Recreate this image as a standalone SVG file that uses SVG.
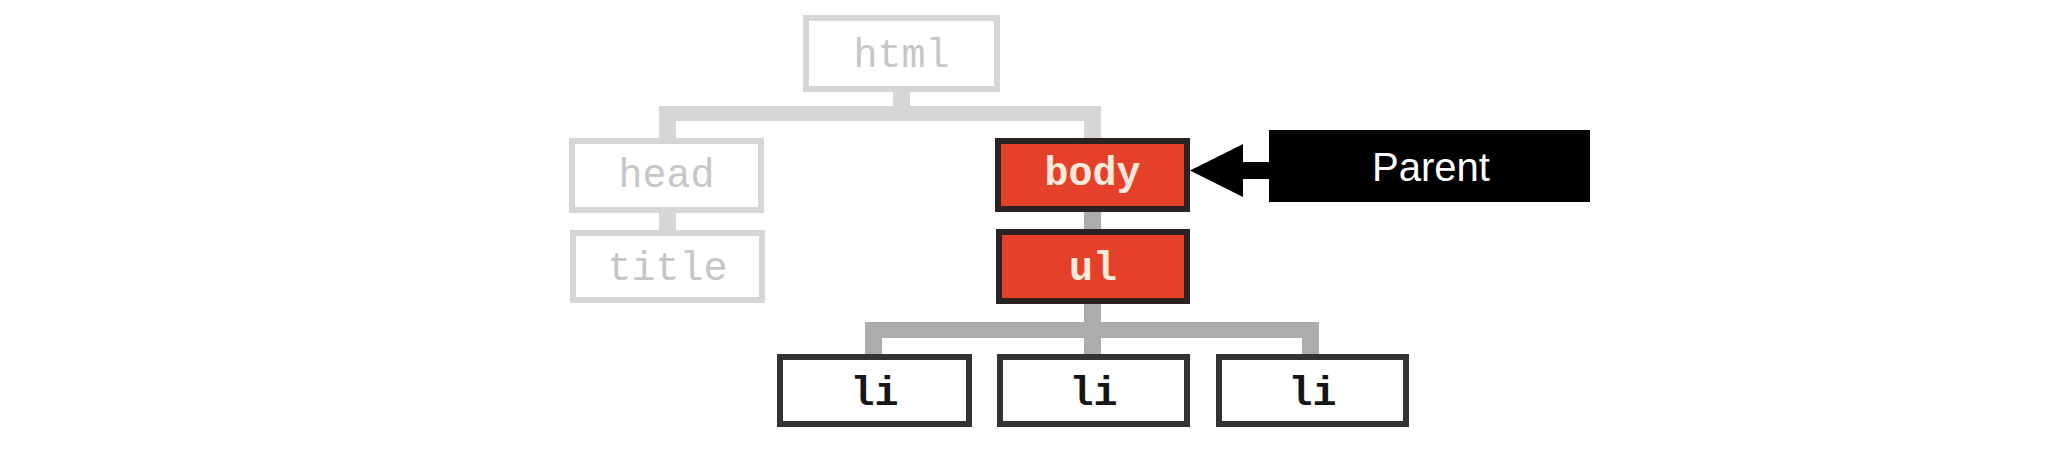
<svg xmlns="http://www.w3.org/2000/svg" width="2068" height="462" viewBox="0 0 2068 462">
<style>
.faded rect{fill:#fff;stroke:#d6d6d6;stroke-width:6}
.faded text{fill:#c6c6c6}
.hl rect{fill:#e5412a;stroke:#2b2222;stroke-width:6}
.hl text{fill:#fbeadb;font-weight:bold}
.leaf rect{fill:#fff;stroke:#333;stroke-width:6}
.leaf text{fill:#161616;font-weight:bold}
.code{font-family:"Liberation Mono","Courier New",monospace;font-size:40px;text-anchor:middle}
.lineA{fill:#d6d6d6}
.lineB{fill:#acacac}
</style>
<rect width="2068" height="462" fill="#fff"/>
<g id="connectors">
  <rect class="lineA" x="893" y="89" width="17" height="20"/>
  <rect class="lineA" x="659" y="106" width="442" height="15"/>
  <rect class="lineA" x="659" y="121" width="17" height="20"/>
  <rect class="lineA" x="1084" y="121" width="17" height="20"/>
  <rect class="lineA" x="659" y="210" width="17" height="23"/>
  <rect class="lineB" x="1084" y="209" width="17" height="23"/>
  <rect class="lineB" x="1084" y="301" width="17" height="22"/>
  <rect class="lineB" x="865" y="322" width="454" height="16"/>
  <rect class="lineB" x="865" y="338" width="17" height="19"/>
  <rect class="lineB" x="1084" y="338" width="17" height="19"/>
  <rect class="lineB" x="1302" y="338" width="17" height="19"/>
  <g id="arrow">
    <rect x="1240" y="162" width="31" height="17" fill="#000"/>
    <polygon points="1190,170.5 1243,144 1243,197" fill="#000"/>
  </g>
</g>
<g id="node-html" class="faded"><rect x="806" y="18" width="191" height="71"/><text class="code" x="901.5" y="67">html</text></g>
<g id="node-head" class="faded"><rect x="572" y="141" width="189" height="69"/><text class="code" x="666.5" y="187">head</text></g>
<g id="node-title" class="faded"><rect x="573" y="233" width="189" height="67"/><text class="code" x="667.5" y="280">title</text></g>
<g id="node-body" class="hl"><rect x="998" y="141" width="189" height="68"/><text class="code" x="1092.5" y="185">body</text></g>
<g id="node-ul" class="hl"><rect x="999" y="232" width="188" height="69"/><text class="code" x="1093" y="280">ul</text></g>
<g id="node-li1" class="leaf"><rect x="780" y="357" width="189" height="67"/><text class="code" x="874.5" y="405">li</text></g>
<g id="node-li2" class="leaf"><rect x="1000" y="357" width="187" height="67"/><text class="code" x="1093.5" y="405">li</text></g>
<g id="node-li3" class="leaf"><rect x="1219" y="357" width="187" height="67"/><text class="code" x="1312.5" y="405">li</text></g>
<g id="node-parent"><rect x="1269" y="130" width="321" height="72" fill="#000"/><text x="1431" y="181" font-family="Liberation Sans, Arial, sans-serif" font-size="40" fill="#fff" text-anchor="middle">Parent</text></g>
</svg>
